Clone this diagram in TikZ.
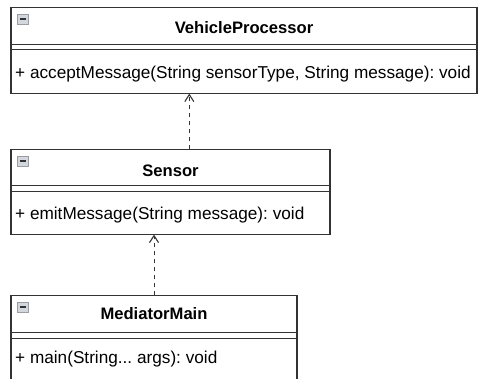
\documentclass[tikz,border=0pt]{standalone}
\usepackage{fontspec}
\setmainfont{Liberation Sans}
\usetikzlibrary{arrows.meta}
\definecolor{linec}{HTML}{333333}
\definecolor{iconfill}{HTML}{D3D7DE}
\definecolor{iconedge}{HTML}{9A9CA2}
\tikzset{
  classbox/.style={draw=linec, line width=1.3pt, fill=white},
  sepline/.style={draw=linec, line width=1.3pt},
  title/.style={font=\fontsize{16.6}{19}\selectfont\bfseries, anchor=base, inner sep=0pt},
  member/.style={font=\fontsize{17.2}{20}\selectfont, anchor=base west, inner sep=0pt},
  depend/.style={draw=linec, line width=1pt, dash pattern=on 4pt off 4pt, -{Straight Barb[length=7pt,width=9pt,line width=1.1pt]}},
}
\newcommand{\minusicon}[2]{%
  \fill[iconfill, draw=iconedge, line width=0.8pt] (#1,#2) rectangle ++(11,10);
  \draw[linec, line width=1.5pt] (#1+2.5,#2+5) -- ++(6,0);
}
\begin{document}
\frenchspacing
\begin{tikzpicture}[x=1pt, y=-1pt]
\useasboundingbox (0,0) rectangle (478,379);
\begin{scope}
\clip (0,0) rectangle (478,379);
% VehicleProcessor
\draw[classbox] (11,7.3) rectangle (477,93.5);
\node[draw=none, minimum width=466pt, minimum height=86pt, inner sep=0pt] (vp) at (244,50.4) {};
\draw[sepline] (11,44.3) -- (477,44.3);
\draw[sepline] (11,49.8) -- (477,49.8);
\minusicon{17}{14}
\node[title] (vpt) at (244,34) {VehicleProcessor};
\node[member] (vpm) at (15,78.5) {+ acceptMessage(String sensorType, String message): void};
% Sensor
\draw[classbox] (11,149.3) rectangle (330,234.5);
\node[draw=none, minimum width=319pt, minimum height=85pt, inner sep=0pt] (se) at (170.5,191.9) {};
\draw[sepline] (11,185.8) -- (330,185.8);
\draw[sepline] (11,191.3) -- (330,191.3);
\minusicon{17}{156}
\node[title] (set) at (170.5,176.5) {Sensor};
\node[member] (sem) at (15,219) {+ emitMessage(String message): void};
% MediatorMain
\draw[classbox] (11,295.3) rectangle (297,400);
\node[draw=none, minimum width=286pt, minimum height=104pt, inner sep=0pt] (mm) at (154,347.6) {};
\draw[sepline] (11,332.3) -- (297,332.3);
\draw[sepline] (11,338.2) -- (297,338.2);
\minusicon{17}{302}
\node[title] (mmt) at (154,319.5) {MediatorMain};
\node[member] (mmm) at (15,363.5) {+ main(String... args): void};
\end{scope}
% dependencies
\draw[depend] (se.north -| 189.3,0) -- (vp.south -| 189.3,0);
\draw[depend] (mm.north -| 154,0) -- (se.south -| 154,0);
\end{tikzpicture}
\end{document}
